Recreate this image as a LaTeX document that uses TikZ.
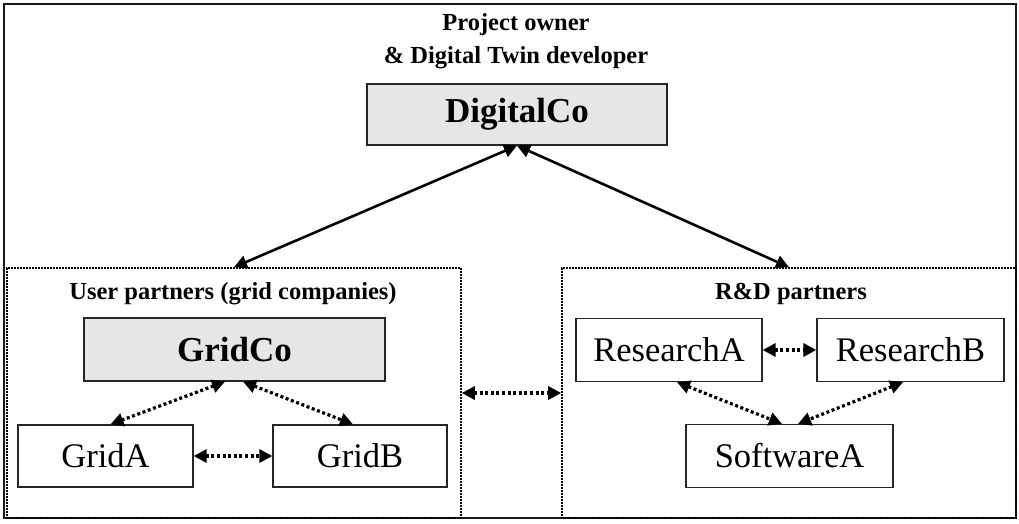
\documentclass[tikz,border=0pt]{standalone}
\usepackage{fontspec}
\setmainfont{Liberation Serif}
\usetikzlibrary{arrows.meta}
\definecolor{boxgray}{RGB}{230,230,230}
\tikzset{
  entity/.style={draw=black!85, line width=1.3pt, inner sep=0pt, font=\fontsize{34.5}{36}\selectfont},
  mainentity/.style={entity, fill=boxgray, font=\fontsize{35}{36}\selectfont\bfseries},
  groupbox/.style={draw=black, line width=1.6pt, dash pattern=on 1.6pt off 1.4pt, inner sep=0pt},
  grouplabel/.style={inner sep=0pt, font=\fontsize{24.5}{33}\selectfont\bfseries, align=center},
  solidlink/.style={line width=2.6pt, {Triangle[length=13pt,width=13pt]}-{Triangle[length=13pt,width=13pt]}},
  dottedlink/.style={line width=3.2pt, dash pattern=on 3pt off 2.6pt, {Triangle[length=13pt,width=13pt]}-{Triangle[length=13pt,width=13pt]}}
}
\begin{document}
\begin{tikzpicture}[x=1pt,y=-1pt]
\useasboundingbox (0,0) rectangle (1019,523);
\fill[white] (0,0) rectangle (1019,523);
\draw[line width=2pt, black!90] (4,4) rectangle (1016,518);

% group boxes
\node[groupbox, minimum width=454pt, minimum height=250pt] (userbox) at (234,393) {};
\node[groupbox, minimum width=454pt, minimum height=250pt] (rdbox) at (789,393) {};

% labels
\node[grouplabel] (title) at (516,41.5) {Project owner\\\& Digital Twin developer};
\node[grouplabel] (userlabel) at (233,294) {User partners (grid companies)};
\node[grouplabel] (rdlabel) at (791,294) {R\&D partners};

% entities
\node[mainentity, minimum width=300pt, minimum height=61pt] (DigitalCo) at (517,114.5) {DigitalCo};
\node[mainentity, minimum width=301pt, minimum height=63pt] (GridCo) at (234.5,349.5) {GridCo};
\node[entity, minimum width=175pt, minimum height=62pt] (GridA) at (105.5,456) {GridA};
\node[entity, minimum width=174pt, minimum height=62pt] (GridB) at (360,456) {GridB};
\node[entity, minimum width=186pt, minimum height=63pt] (ResearchA) at (669,350) {ResearchA};
\node[entity, minimum width=187pt, minimum height=63pt] (ResearchB) at (910.5,350) {ResearchB};
\node[entity, minimum width=207pt, minimum height=63pt] (SoftwareA) at (789.5,456) {SoftwareA};

% connectors
\draw[solidlink] (DigitalCo.south) -- (userbox.north);
\draw[solidlink] (DigitalCo.south) -- (rdbox.north);
\draw[dottedlink] ([xshift=-9.5pt]GridCo.south) -- ([xshift=5pt]GridA.north);
\draw[dottedlink] ([xshift=8.5pt]GridCo.south) -- ([xshift=-7pt]GridB.north);
\draw[dottedlink] (GridA.east) -- (GridB.west);
\draw[dottedlink] (userbox.east) -- (rdbox.west);
\draw[dottedlink] (ResearchA.east) -- (ResearchB.west);
\draw[dottedlink] ([xshift=8pt]ResearchA.south) -- ([xshift=-7.5pt]SoftwareA.north);
\draw[dottedlink] ([xshift=-7.5pt]ResearchB.south) -- ([xshift=8.5pt]SoftwareA.north);
\end{tikzpicture}
\end{document}
